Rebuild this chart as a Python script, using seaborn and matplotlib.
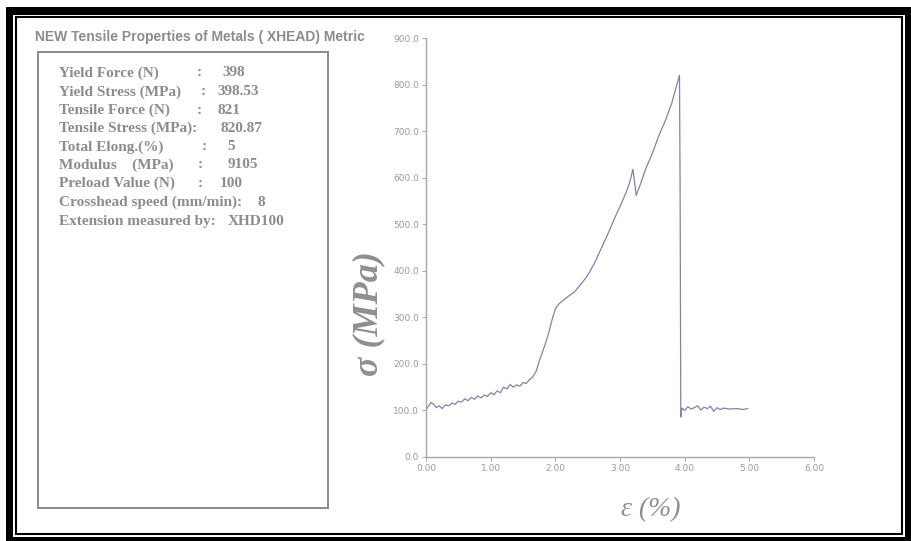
import matplotlib
matplotlib.use("Agg")
import matplotlib.pyplot as plt
import seaborn as sns
from matplotlib.patches import Rectangle

# =========================================
# DATA
# =========================================
strain = [0.00, 0.03, 0.08, 0.12, 0.16, 0.20, 0.25, 0.30, 0.35, 0.40,
          0.45, 0.50, 0.55, 0.60, 0.65, 0.70, 0.75, 0.80, 0.85, 0.90,
          0.95, 1.00, 1.05, 1.10, 1.15, 1.20, 1.25, 1.30, 1.35, 1.40,
          1.45, 1.50, 1.55, 1.60, 1.65, 1.70, 1.75, 1.80, 1.85, 1.90,
          1.95, 2.00, 2.05, 2.10, 2.20, 2.30, 2.40, 2.50, 2.60, 2.70,
          2.80, 2.90, 3.00, 3.10, 3.15, 3.20, 3.23, 3.25, 3.30, 3.40,
          3.50, 3.60, 3.70, 3.80, 3.86, 3.92, 3.93, 3.94, 3.95, 3.96,
          4.00, 4.05, 4.10, 4.15, 4.20, 4.25, 4.30, 4.35, 4.40, 4.45,
          4.50, 4.55, 4.60, 4.70, 4.80, 4.90, 4.98]
stress = [100, 108, 117, 113, 106, 110, 104, 112, 110, 116,
          113, 120, 118, 125, 121, 128, 124, 131, 127, 133,
          130, 138, 134, 142, 138, 150, 146, 156, 150, 155,
          152, 160, 158, 166, 172, 183, 205, 225, 245, 268,
          295, 318, 328, 334, 345, 355, 372, 390, 415, 445,
          475, 508, 538, 570, 590, 618, 585, 562, 580, 620,
          652, 690, 722, 760, 790, 820, 560, 86, 98, 105,
          100, 108, 103, 106, 110, 101, 107, 104, 109, 98,
          106, 102, 105, 103, 104, 102, 104]

x_ticks = [0, 1, 2, 3, 4, 5, 6]
y_ticks = [0, 100, 200, 300, 400, 500, 600, 700, 800, 900]

title = "NEW Tensile Properties of Metals ( XHEAD) Metric"
info_labels = ["Yield Force (N)", "Yield Stress (MPa)", "Tensile Force (N)",
               "Tensile Stress (MPa):", "Total Elong.(%)", "Modulus    (MPa)",
               "Preload Value (N)", "Crosshead speed (mm/min):",
               "Extension measured by:"]
info_colons = [":", ":", ":", "", ":", ":", ":", "", ""]
info_values = ["398", "398.53", "821", "820.87", "5", "9105", "100", "8", "XHD100"]

# =========================================
# LAYOUT (pixel positions)
# =========================================
W, H = 912, 541
colon_x = [197, 201, 197, 0, 202, 198, 198, 0, 0]
value_x = [222, 217, 218, 221, 227, 228, 220, 258, 228]
line_y = [73, 92, 110, 128, 147, 165, 183, 202, 221]

sns.set_style("ticks")
fig = plt.figure(figsize=(W / 100, H / 100), dpi=100)


def box(l, t, r, b, **kw):
    return Rectangle((l / W, 1 - b / H), (r - l) / W, (b - t) / H,
                     transform=fig.transFigure, **kw)


# double frame round the picture
fig.patches.append(box(6, 7, 915, 545, facecolor="black", edgecolor="none", zorder=-3))
fig.patches.append(box(13, 15, 905, 537, facecolor="white", edgecolor="none", zorder=-2))
fig.patches.append(box(16, 17, 902, 534, fill=False, edgecolor="black", linewidth=1.5, zorder=-1))
# info box
fig.patches.append(box(38, 52, 328, 508, fill=False, edgecolor="#8a8a8a", linewidth=1.4))

# =========================================
# TEXT PANEL
# =========================================
grey = "#8c8c8c"
fig.text(35 / W, 1 - 37 / H, title, fontsize=10, fontweight="bold",
         family="Liberation Sans", color=grey, va="center", ha="left")

for i, lab in enumerate(info_labels):
    y = 1 - line_y[i] / H
    kw = dict(fontsize=11, fontweight="bold", family="Liberation Serif",
              color=grey, va="center", ha="left")
    fig.text(59 / W, y, lab, **kw)
    if info_colons[i]:
        fig.text(colon_x[i] / W, y, info_colons[i], **kw)
    fig.text(value_x[i] / W, y, info_values[i], **kw)

# =========================================
# STRESS-STRAIN CURVE
# =========================================
ax = fig.add_axes([426 / W, 1 - 457 / H, (814 - 426) / W, (457 - 38) / H])
ax.set_facecolor("none")
sns.lineplot(x=strain, y=stress, sort=False, estimator=None,
             color="#8282ae", linewidth=0.9, ax=ax)
ax.set_xlim(0, 6)
ax.set_ylim(0, 900)
ax.set_xticks(x_ticks)
ax.set_xticklabels([f"{v:.2f}" for v in x_ticks])
ax.set_yticks(y_ticks)
ax.set_yticklabels([f"{v:.1f}" for v in y_ticks])
ax.tick_params(labelsize=6.5, colors="#9a9a9a", length=3, width=0.6, pad=2)
for s in ["top", "right"]:
    ax.spines[s].set_visible(False)
for s in ["left", "bottom"]:
    ax.spines[s].set_color("#a8a8a8")
    ax.spines[s].set_linewidth(1.0)
ax.set_xlabel("")
ax.set_ylabel("")

fig.text(369 / W, 1 - 314 / H, "σ (MPa)", rotation=90, fontsize=26,
         fontweight="bold", style="italic", family="Liberation Serif",
         color="#8f8f8f", ha="center", va="center")
fig.text(651 / W, 1 - 510 / H, "ε (%)", fontsize=20, style="italic",
         family="Liberation Serif", color="#8f8f8f", ha="center", va="center")

fig.savefig("out.png", dpi=100, facecolor="white")
